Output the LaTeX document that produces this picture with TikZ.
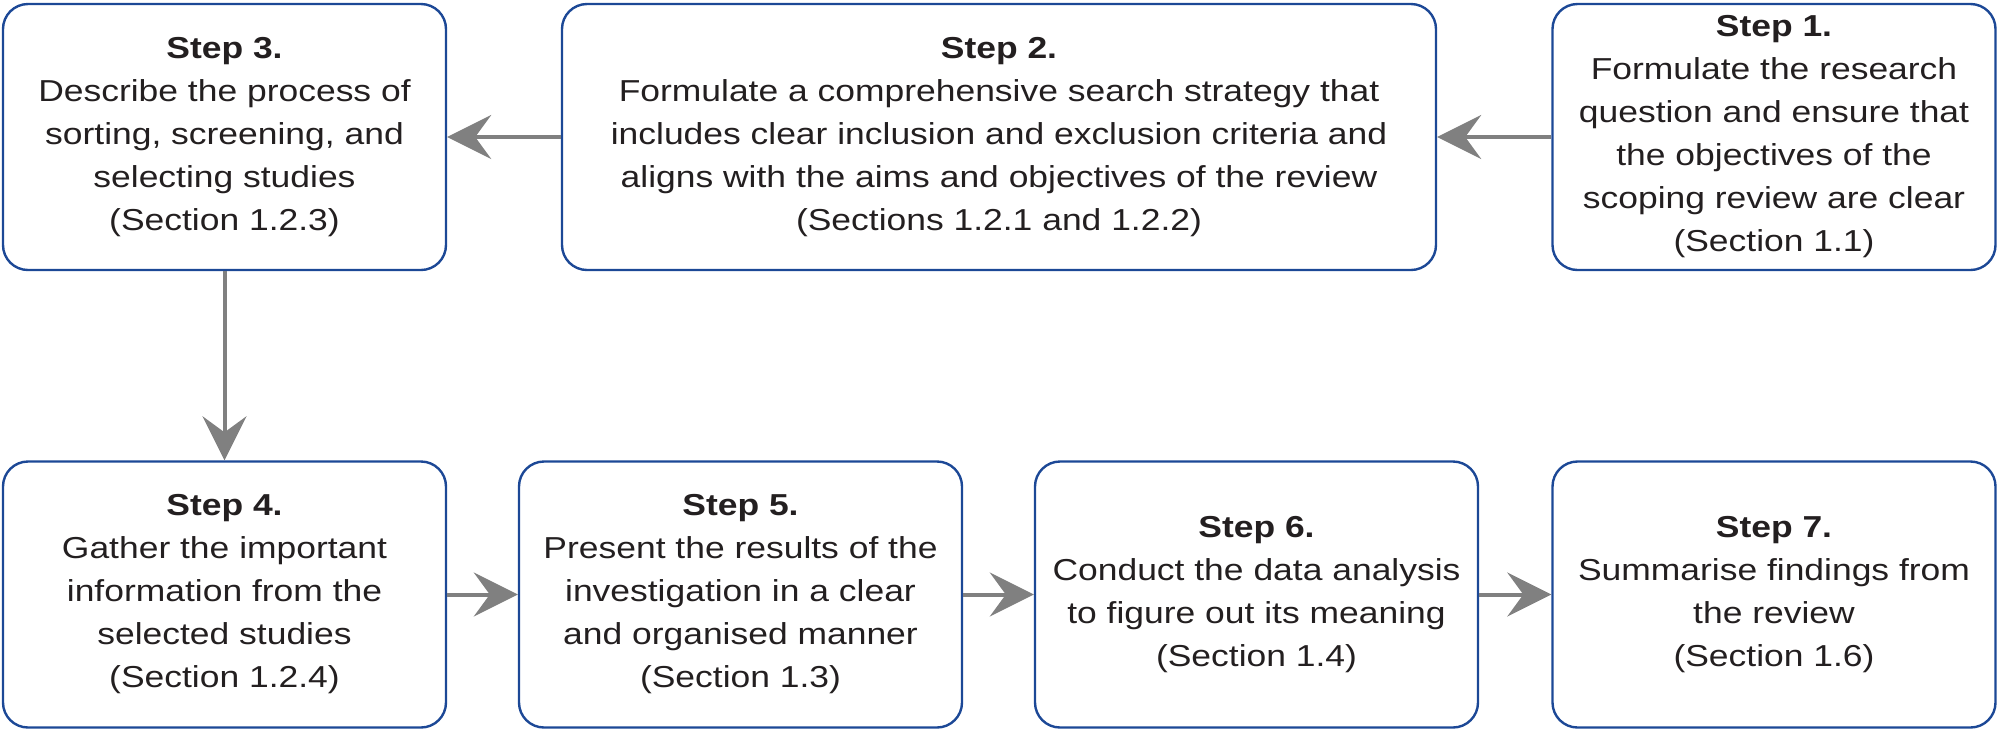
\documentclass[tikz,border=0pt]{standalone}
\usepackage{fontspec}
\setmainfont{Liberation Sans}[FakeStretch=1.17]
\usepackage{tikz}
\usetikzlibrary{arrows.meta}
\definecolor{boxblue}{RGB}{28,72,150}
\definecolor{arrowgray}{RGB}{128,128,128}
\definecolor{textgray}{RGB}{35,31,32}

\begin{document}
\begin{tikzpicture}[
  stepbox/.style={draw=boxblue, line width=0.024cm, rounded corners=0.25cm, minimum height=2.66cm, align=center, text=textgray, font=\fontsize{8.62}{12.23}\selectfont, execute at begin node={\rule{0pt}{9.3pt}}},
  narrow/.style={stepbox, minimum width=4.43cm},
  link/.style={draw=arrowgray, line width=0.04cm, -{Stealth[length=0.44cm 0, width=0.44cm 0, inset=0.16cm 0]}}]
\useasboundingbox (0,0) rectangle (20,7.29);
\node [narrow] (s3) at (2.245,5.92) {\textbf{Step 3.}\\Describe the process of\\sorting, screening, and\\selecting studies\\(Section 1.2.3)};
\node [stepbox, minimum width=8.74cm] (s2) at (9.99,5.92) {\textbf{Step 2.}\\Formulate a comprehensive search strategy that\\includes clear inclusion and exclusion criteria and\\aligns with the aims and objectives of the review\\(Sections 1.2.1 and 1.2.2)};
\node [narrow] (s1) at (17.74,5.92) {\textbf{Step 1.}\\Formulate the research\\question and ensure that\\the objectives of the\\scoping review are clear\\(Section 1.1)};

\node [narrow] (s4) at (2.245,1.345) {\textbf{Step 4.}\\Gather the important\\information from the\\selected studies\\(Section 1.2.4)};
\node [narrow] (s5) at (7.405,1.345) {\textbf{Step 5.}\\Present the results of the\\investigation in a clear\\and organised manner\\(Section 1.3)};
\node [narrow] (s6) at (12.565,1.345) {\textbf{Step 6.}\\Conduct the data analysis\\to figure out its meaning\\(Section 1.4)};
\node [narrow] (s7) at (17.74,1.345) {\textbf{Step 7.}\\Summarise findings from\\the review\\(Section 1.6)};

\draw [link] (s1) -- (s2); \draw [link] (s2) -- (s3); \draw [link] (s3) -- (s4);
\draw [link] (s4) -- (s5); \draw [link] (s5) -- (s6); \draw [link] (s6) -- (s7);
\end{tikzpicture}
\end{document}
